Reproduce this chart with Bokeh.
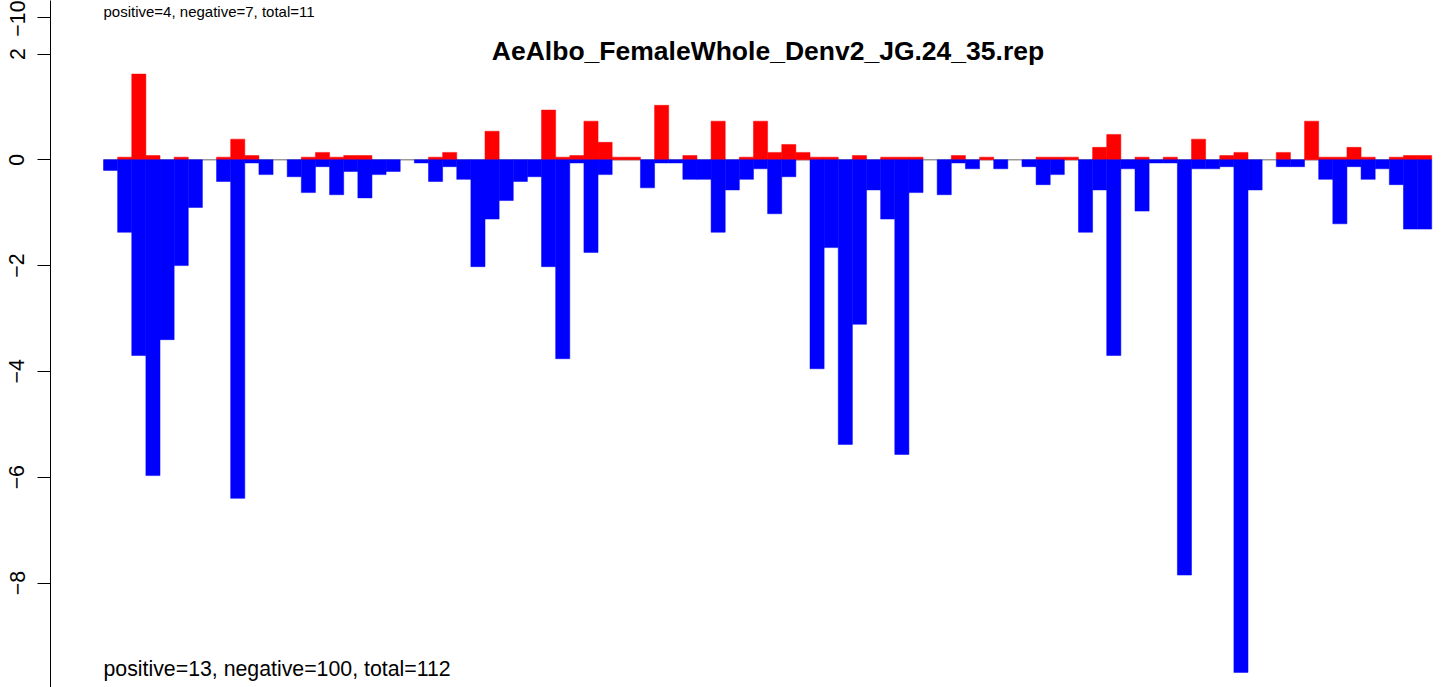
import numpy as np
from bokeh.plotting import figure
from bokeh.models import Range1d, FixedTicker, Label, ColumnDataSource
from bokeh.embed import file_html
from bokeh.resources import INLINE

# ---------------- data ----------------
title_text = "AeAlbo_FemaleWhole_Denv2_JG.24_35.rep"
summary_text = "positive=13, negative=100, total=112"
prev_summary_text = "positive=4, negative=7, total=11"   # text of the panel above

positive = [0, 0.05, 1.62, 0.08, 0, 0.05, 0, 0, 0.05, 0.39,
            0.08, 0, 0, 0, 0.05, 0.14, 0.05, 0.08, 0.08, 0,
            0, 0, 0, 0.05, 0.14, 0, 0, 0.54, 0, 0,
            0, 0.94, 0.05, 0.08, 0.73, 0.33, 0.05, 0.05, 0, 1.03,
            0, 0.08, 0, 0.73, 0, 0.05, 0.73, 0.14, 0.29, 0.14,
            0.05, 0.05, 0, 0.08, 0, 0.05, 0.05, 0.05, 0, 0,
            0.08, 0, 0.05, 0, 0, 0, 0.05, 0.05, 0.05, 0,
            0.235, 0.48, 0, 0.05, 0, 0.05, 0, 0.39, 0, 0.08,
            0.14, 0, 0, 0.14, 0, 0.73, 0.05, 0.05, 0.235, 0.05,
            0, 0.05, 0.08, 0.08]

negative = [-0.2, -1.37, -3.70, -5.97, -3.40, -2.00, -0.90, 0, -0.41, -6.40,
            -0.06, -0.28, 0, -0.32, -0.62, -0.13, -0.66, -0.22, -0.72, -0.28,
            -0.22, 0, -0.06, -0.41, -0.13, -0.37, -2.02, -1.12, -0.77, -0.41,
            -0.32, -2.02, -3.76, -0.06, -1.75, -0.28, 0, 0, -0.53, -0.06,
            -0.06, -0.37, -0.37, -1.37, -0.57, -0.37, -0.17, -1.02, -0.32, 0,
            -3.95, -1.66, -5.38, -3.11, -0.57, -1.12, -5.57, -0.62, 0, -0.66,
            -0.06, -0.17, 0, -0.17, 0, -0.13, -0.47, -0.28, 0, -1.37,
            -0.57, -3.70, -0.17, -0.97, -0.06, -0.06, -7.85, -0.17, -0.17, -0.13,
            -9.69, -0.57, 0, -0.13, -0.13, 0, -0.37, -1.21, -0.13, -0.37,
            -0.17, -0.47, -1.31, -1.31]

y_ticks = [2, 0, -2, -4, -6, -8, -10]
y_tick_labels = ["2", "0", "\u22122", "\u22124", "\u22126", "\u22128", "\u221210"]
prev_panel_tick_label = "\u221210"   # remnant of the panel above

# ---------------- layout constants ----------------
W, H = 1444, 687
LEFT = 50          # frame left edge (canvas px)
PX_X = 14.13       # px per slot
PX_Y = 52.9        # px per unit
ZERO_Y = 159.3     # canvas px from top to y = 0
SLOT0 = 53         # px from frame left to first slot

n = len(positive)
x_start = -SLOT0 / PX_X
x_end = x_start + (W - LEFT) / PX_X
y_end = ZERO_Y / PX_Y
y_start = y_end - H / PX_Y


def y_at(px_from_top):
    return y_end - px_from_top / PX_Y


p = figure(width=W, height=H, x_range=Range1d(x_start, x_end),
           y_range=Range1d(y_start, y_end), output_backend="svg",
           toolbar_location=None, x_axis_location=None, title=None,
           min_border_left=LEFT, min_border_right=0, min_border_top=0,
           min_border_bottom=0)
p.outline_line_color = None
p.grid.grid_line_color = None
p.background_fill_color = "white"
p.border_fill_color = "white"

# zero reference line
p.segment(x0=[0], x1=[n], y0=[0], y1=[0], line_color="#9a9a9a", line_width=1.5)

idx = np.arange(n)
pos = np.array(positive, dtype=float)
neg = np.array(negative, dtype=float)
mp = pos != 0
mn = neg != 0
src_pos = ColumnDataSource(dict(x=idx[mp] + 0.5, top=pos[mp]))
src_neg = ColumnDataSource(dict(x=idx[mn] + 0.5, bottom=neg[mn]))
p.vbar(x="x", width=1, top="top", bottom=0, source=src_pos,
       fill_color="#FF0000", line_color="#FF0000", line_width=0.5)
p.vbar(x="x", width=1, top=0, bottom="bottom", source=src_neg,
       fill_color="#0000FF", line_color="#0000FF", line_width=0.5)

# y axis
prev_tick = round(y_at(17), 2)
yax = p.yaxis[0]
yax.ticker = FixedTicker(ticks=[prev_tick] + y_ticks)
overrides = {t: lab for t, lab in zip(y_ticks, y_tick_labels)}
overrides[prev_tick] = prev_panel_tick_label
yax.major_label_overrides = overrides
yax.major_label_orientation = "vertical"
yax.major_tick_out = 13
yax.major_tick_in = 0
yax.minor_tick_out = 0
yax.minor_tick_in = 0
yax.major_label_standoff = 13
yax.axis_line_color = "black"
yax.major_tick_line_color = "black"
yax.major_label_text_font = "Liberation Sans"
yax.major_label_text_font_size = "21.3px"
yax.major_label_text_color = "black"

# title and summary texts
TITLE_CX = 767.5
p.add_layout(Label(x=x_start + (TITLE_CX - LEFT) / PX_X, y=y_at(50),
                   text=title_text, text_align="center", text_baseline="alphabetic",
                   text_font="Liberation Sans", text_font_style="bold",
                   text_font_size="26.5px", text_color="black"))
p.add_layout(Label(x=0, y=y_at(668), text=summary_text,
                   text_align="left", text_baseline="alphabetic",
                   text_font="Liberation Sans", text_font_size="21.3px",
                   text_color="black"))
p.add_layout(Label(x=0, y=y_at(2), text=prev_summary_text,
                   text_align="left", text_baseline="top",
                   text_font="Liberation Sans", text_font_size="15px",
                   text_color="black"))

open("out.html", "w").write(file_html(p, INLINE))
